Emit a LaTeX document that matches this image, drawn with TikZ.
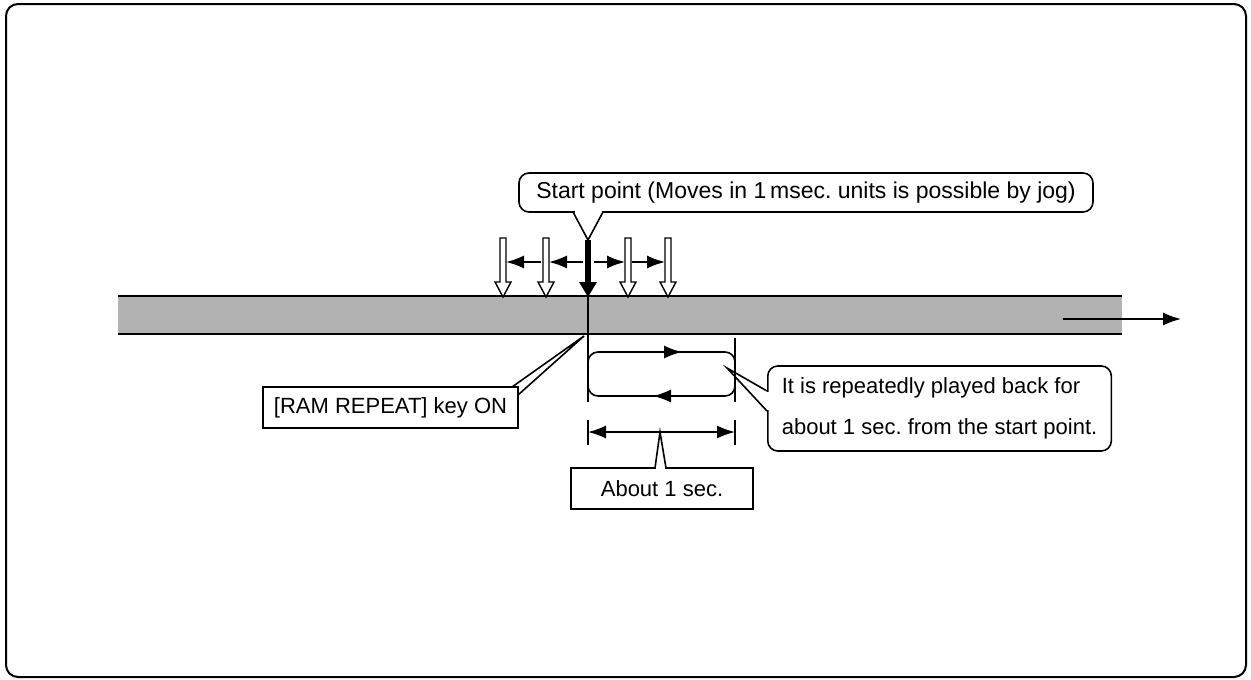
\documentclass[tikz,border=0pt]{standalone}
\usepackage{fontspec}
\setmainfont{Liberation Sans}
\usetikzlibrary{arrows.meta,calc}
\begin{document}
\frenchspacing
\begin{tikzpicture}[x=1pt,y=-1pt,
  lbl/.style={font=\fontsize{22}{26}\selectfont, inner sep=0pt},
  sharpbox/.style={draw, line width=1.6pt, fill=white, minimum height=41pt, lbl},
  roundbox/.style={draw, line width=1.6pt, fill=white, rounded corners=10pt, lbl},
  ln/.style={line width=1.6pt},
  arr/.style={ln, -{Latex[length=18pt,width=13pt]}},
  darr/.style={ln, {Latex[length=18pt,width=13pt]}-{Latex[length=18pt,width=13pt]}},
  hollow/.style={draw, line width=1.4pt, fill=white},
  tapeedge/.style={line width=2pt}]
\useasboundingbox (0,0) rectangle (1251,680);
% frame
\draw[line width=2pt, rounded corners=12pt] (6,4) rectangle (1246,677);
% tape
\fill[black!30] (118,296) rectangle (1122,334);
\draw[tapeedge] (118,296) -- (1122,296);
\draw[tapeedge] (118,334) -- (1122,334);
\coordinate (flowA) at (1063,319);
\coordinate (flowB) at (1181,319);
\draw[arr] (flowA) -- (flowB);
% hollow jog arrows
\foreach \x in {503,546,628,668} {
  \draw[hollow] ({\x-3},238) -- ({\x+3},238) -- ({\x+3},282) -- ({\x+8},282) -- (\x,297) -- ({\x-8},282) -- ({\x-3},282) -- cycle;
}
% horizontal jog arrows
\coordinate (j1a) at (541,262); \coordinate (j1b) at (506,262);
\coordinate (j2a) at (583,262); \coordinate (j2b) at (549,262);
\coordinate (j3a) at (594,262); \coordinate (j3b) at (625,262);
\coordinate (j4a) at (632,262); \coordinate (j4b) at (665,262);
\draw[arr] (j1a) -- (j1b);
\draw[arr] (j2a) -- (j2b);
\draw[arr] (j3a) -- (j3b);
\draw[arr] (j4a) -- (j4b);
% start point thick arrow
\fill (585,240) rectangle (591,283);
\fill (579,282) -- (597,282) -- (588,297) -- cycle;
% start line through tape
\coordinate (s0) at (588,297);
\coordinate (s1) at (588,402);
\draw[ln] (s0) -- (s1);
% end line of loop
\coordinate (e0) at (735,338);
\coordinate (e1) at (735,402);
\draw[ln] (e0) -- (e1);
% loop
\draw[ln, rounded corners=10pt] (588,352) rectangle (735,396);
\draw[arr] (640,352) -- (682,352);
\draw[arr] (695,396) -- (653,396);
% dimension
\coordinate (d0) at (588,432);
\coordinate (d1) at (735,432);
\draw[ln] (588,420) -- (588,445);
\draw[ln] (735,420) -- (735,445);
\draw[darr] (d0) -- (d1);
% start callout
\node[roundbox, minimum width=574pt, minimum height=39pt, font=\fontsize{23}{26}\selectfont] (start) at (806,192.5) {Start point (Moves in 1\,msec. units is possible by jog)};
\fill[white] (574.5,210) rectangle (601.5,214);
\coordinate (startTip) at (588,240);
\draw[ln] (573,212) -- (startTip) -- (603,212);
% RAM REPEAT callout
\node[sharpbox, minimum width=255pt] (ram) at (390.5,407.5) {[RAM REPEAT] key ON};
\coordinate (ramTip) at (584,336);
\fill[white] (511.5,385.5) -- (519.5,385.5) -- (519.5,395.5) -- (ramTip) -- cycle;
\draw[ln] (512,387) -- (ramTip) -- (518,395);
% repeat callout
\node[roundbox, anchor=west, inner xsep=14pt, minimum height=85pt, align=left, font=\fontsize{22}{41}\selectfont] (rep) at (767,408.5) {It is repeatedly played back for\\about 1 sec. from the start point.};
\coordinate (repTip) at (727,368);
\fill[white] (765,392) rectangle (769,410);
\draw[ln] (767,391) -- (repTip) -- (767,411);
% about callout
\node[sharpbox, minimum width=182pt] (about) at (662,488.5) {About 1 sec.};
\coordinate (aboutTip) at (660,432);
\fill[white] (656,466.5) rectangle (665,469.5);
\draw[ln] (655,468) -- (aboutTip) -- (666,468);
\end{tikzpicture}
\end{document}
